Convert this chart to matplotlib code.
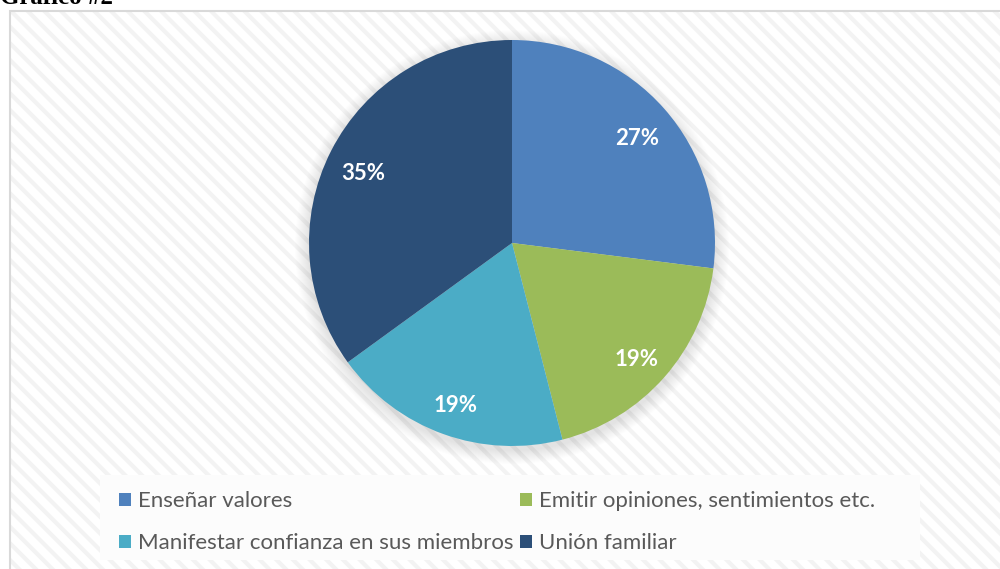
import matplotlib
matplotlib.use("Agg")
import matplotlib.pyplot as plt
from matplotlib.patches import Rectangle, Circle

categories = ["Enseñar valores", "Emitir opiniones, sentimientos etc.",
              "Manifestar confianza en sus miembros", "Unión familiar"]
values = [27, 19, 19, 35]
colors = ["#4f81bd", "#9bbb59", "#4bacc6", "#2c4f78"]
title = "Gráfico #2"

font = "Lato"

plt.rcParams['hatch.linewidth'] = 3.0

W, H = 1000, 569
fig = plt.figure(figsize=(10, 5.69), dpi=100)
ax = fig.add_axes([0, 0, 1, 1])

# background panel with diagonal pattern
ax.add_patch(Rectangle((10, -20), 1020, H - 11 + 20, facecolor='white',
                       edgecolor='#f3f3f3', hatch='\\\\', linewidth=0, zorder=0))
ax.add_patch(Rectangle((10, -20), 1020, H - 11 + 20, facecolor='none',
                       edgecolor='#d9d9d9', linewidth=1.5, zorder=1))

cx, cy, r = 512, H - 243, 203
# soft shadow
for i in range(14):
    ax.add_patch(Circle((cx, cy - 4), r + 14 - i, facecolor='#000000',
                        alpha=0.008, linewidth=0, zorder=2))

wedges, texts, autotexts = ax.pie(
    values, colors=colors, startangle=90, counterclock=False,
    center=(cx, cy), radius=r, autopct='%1.0f%%', pctdistance=0.82,
    wedgeprops=dict(linewidth=0), frame=True,
    textprops=dict(color='white', fontsize=16, fontweight='bold', family=font))
for w in wedges:
    w.set_zorder(3)
for t in autotexts:
    t.set_zorder(4)
    x, y = t.get_position()
    t.set_position((x, y - 6))
ax.set_xlim(0, W)
ax.set_ylim(0, H)
ax.set_aspect('equal')
ax.axis('off')

# legend background
ax.add_patch(Rectangle((100, H - 560), 820, 85, facecolor='#fcfcfc',
                       edgecolor='none', zorder=2))
order = [0, 2, 1, 3]
leg = ax.legend([wedges[i] for i in order], [categories[i] for i in order],
                ncol=2, loc='upper left',
                bbox_to_anchor=(108 / W, 1 - 480 / H), frameon=False,
                prop=dict(family=font, size=16), labelcolor='#595959',
                handlelength=0.55, handleheight=0.55, handletextpad=0.3,
                columnspacing=0.3, labelspacing=1.0, borderpad=0)

fig.text(0.0, 1 - 4 / H, title, family='Liberation Serif', fontsize=18,
         fontweight='bold', va='baseline', ha='left', color='black')

fig.savefig("out.png", dpi=100)
